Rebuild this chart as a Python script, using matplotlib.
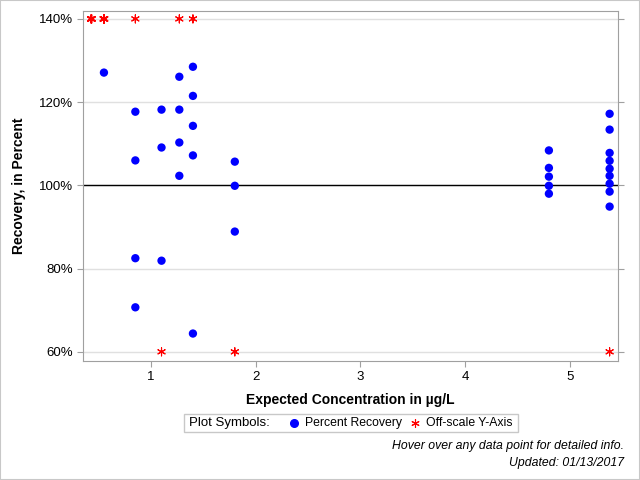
import matplotlib
matplotlib.use("Agg")
import matplotlib.pyplot as plt
from matplotlib.lines import Line2D
from matplotlib.patches import Rectangle

plt.rcParams['font.family'] = ['Liberation Sans', 'DejaVu Sans']

# Percent recovery points
rec_x = [0.55,
         0.85, 0.85, 0.85, 0.85,
         1.1, 1.1, 1.1,
         1.27, 1.27, 1.27, 1.27,
         1.4, 1.4, 1.4, 1.4, 1.4,
         1.8, 1.8, 1.8,
         4.8, 4.8, 4.8, 4.8, 4.8,
         5.38, 5.38, 5.38, 5.38, 5.38, 5.38, 5.38, 5.38, 5.38]
rec_y = [127.1,
         117.7, 106.0, 82.5, 70.7,
         118.2, 109.1, 81.9,
         126.1, 118.2, 110.3, 102.3,
         128.5, 121.5, 114.3, 107.2, 64.4,
         105.7, 99.9, 88.9,
         108.4, 104.2, 102.1, 99.9, 98.0,
         117.2, 113.4, 107.8, 105.9, 104.0, 102.3, 100.4, 98.5, 94.9]

# Off-scale points (plotted at axis limits)
off_x = [0.43, 0.55, 0.85, 1.27, 1.4, 1.1, 1.8, 5.38]
off_y = [140, 140, 140, 140, 140, 60, 60, 60]
off_w = [1.3, 1.3, 0.8, 0.8, 0.8, 0.8, 0.8, 0.8]

y_ticks = [60, 80, 100, 120, 140]
y_labels = ['60%', '80%', '100%', '120%', '140%']
x_ticks = [1, 2, 3, 4, 5]

fig = plt.figure(figsize=(6.4, 4.8), dpi=100)
ax = fig.add_axes([83/640, 1-361/480, (618-83)/640, (361-11)/480])

for yt in y_ticks:
    ax.axhline(yt, color='#e0e0e0', lw=1, zorder=0)
ax.axhline(100, color='black', lw=1, zorder=1)

ax.scatter(rec_x, rec_y, s=36, color='blue', edgecolors='none', zorder=3)
ax.scatter(off_x, off_y, s=34, marker=(6, 2, 0), color='red', linewidths=off_w, zorder=3)

ax.set_xlim(0.35, 5.46)
ax.set_ylim(57.8, 141.9)
ax.set_yticks(y_ticks)
ax.set_yticklabels(y_labels)
ax.set_xticks(x_ticks)

for s in ax.spines.values():
    s.set_color('#a0a0a0')
ax.tick_params(axis='both', colors='#a0a0a0', labelcolor='black', labelsize=9.5, length=4, direction='out')
ax.tick_params(axis='y', right=True, labelright=False)

ax.set_ylabel('Recovery, in Percent', fontsize=10, fontweight='bold', labelpad=9)
ax.set_xlabel('Expected Concentration in \u00b5g/L', fontsize=10, fontweight='bold', labelpad=7)

# Legend box
fig.patches.append(Rectangle((184/640, 1-432/480), (518-184)/640, 18/480,
                             transform=fig.transFigure, fill=False,
                             edgecolor='#c8c8c8', lw=1))
ly = 1 - 423/480
fig.text(189/640, ly, 'Plot Symbols:', fontsize=9.5, va='center', ha='left')
fig.lines.append(Line2D([294/640], [ly], marker='o', markersize=5.5, color='blue',
                        linestyle='none', transform=fig.transFigure))
fig.text(305/640, ly, 'Percent Recovery', fontsize=8.8, va='center', ha='left')
fig.lines.append(Line2D([415/640], [ly], marker=(6, 2, 0), markersize=6, color='red',
                        markeredgewidth=0.8, linestyle='none', transform=fig.transFigure))
fig.text(426/640, ly, 'Off-scale Y-Axis', fontsize=8.8, va='center', ha='left')

fig.text(624/640, 1-446/480, 'Hover over any data point for detailed info.',
         fontsize=8.8, style='italic', ha='right', va='center')
fig.text(624/640, 1-463/480, 'Updated: 01/13/2017',
         fontsize=8.8, style='italic', ha='right', va='center')

# outer border
fig.patches.append(Rectangle((0, 0), 1, 1, transform=fig.transFigure, fill=False,
                             edgecolor='#c8c8c8', lw=1.5))

fig.savefig('out.png', dpi=100)
